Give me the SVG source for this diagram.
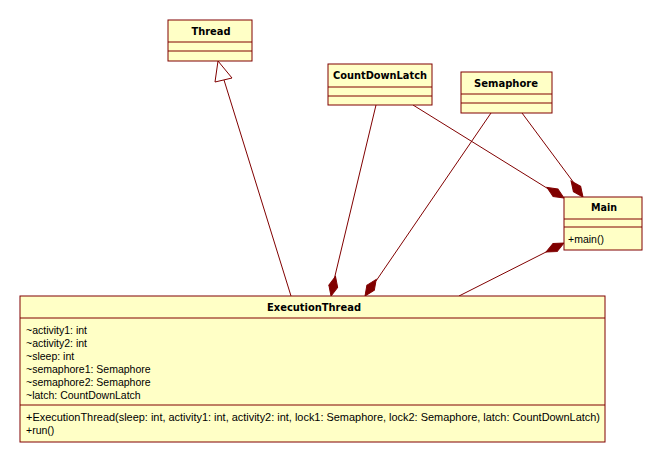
<svg xmlns="http://www.w3.org/2000/svg" width="663" height="462" viewBox="0 0 663 462">
<style>
.box{fill:#ffffc6;stroke:#800000;stroke-width:1}
.div{stroke:#800000;stroke-width:1}
.t{font-family:Tahoma,"DejaVu Sans","Liberation Sans",sans-serif;font-size:11px;font-weight:bold;fill:#000;text-anchor:middle}
.a{font-family:"Liberation Sans",Arial,sans-serif;font-size:10.5px;fill:#000}
.c{stroke:#800000;stroke-width:1;fill:none}
.dia{fill:#800000;stroke:#800000;stroke-width:1}
.tri{fill:#fff;stroke:#800000;stroke-width:1}
</style>
<rect width="663" height="462" fill="#fff"/>
<g id="connectors">
<line class="c" x1="291" y1="296" x2="224" y2="80"/>
<polygon class="tri" points="218,61 215,82 232,78"/>
<line class="c" x1="376" y1="105" x2="334" y2="280"/>
<line class="c" x1="491" y1="113" x2="376" y2="281"/>
<line class="c" x1="413" y1="105" x2="550" y2="190"/>
<line class="c" x1="522" y1="113" x2="574" y2="183"/>
<line class="c" x1="459" y1="296" x2="550" y2="250"/>
<g id="diamonds">
<polygon class="dia" transform="translate(331,296) rotate(-77)" points="0,0 10,-4.5 20,0 10,4.5"/>
<polygon class="dia" transform="translate(365,296) rotate(-56)" points="0,0 10,-4.5 20,0 10,4.5"/>
<polygon class="dia" transform="translate(564,198) rotate(211.8)" points="0,0 10,-4.5 20,0 10,4.5"/>
<polygon class="dia" transform="translate(583,197) rotate(233.4)" points="0,0 10,-4.5 20,0 10,4.5"/>
<polygon class="dia" transform="translate(564,243) rotate(153.2)" points="0,0 10,-4.5 20,0 10,4.5"/>
</g>
</g>
<g id="Thread">
<rect class="box" x="168" y="20" width="84" height="41"/>
<line class="div" x1="168" y1="42" x2="252" y2="42"/>
<line class="div" x1="168" y1="51" x2="252" y2="51"/>
<text class="t" x="211" y="35" textLength="39" lengthAdjust="spacingAndGlyphs">Thread</text>
</g>
<g id="CountDownLatch">
<rect class="box" x="328" y="64" width="104" height="41"/>
<line class="div" x1="328" y1="87" x2="432" y2="87"/>
<line class="div" x1="328" y1="96" x2="432" y2="96"/>
<text class="t" x="380" y="79" textLength="94" lengthAdjust="spacingAndGlyphs">CountDownLatch</text>
</g>
<g id="Semaphore">
<rect class="box" x="461" y="72" width="91" height="41"/>
<line class="div" x1="461" y1="94" x2="552" y2="94"/>
<line class="div" x1="461" y1="103" x2="552" y2="103"/>
<text class="t" x="506" y="87" textLength="64" lengthAdjust="spacingAndGlyphs">Semaphore</text>
</g>
<g id="Main">
<rect class="box" x="564" y="197" width="78" height="53"/>
<line class="div" x1="564" y1="219" x2="642" y2="219"/>
<line class="div" x1="564" y1="227" x2="642" y2="227"/>
<text class="t" x="604" y="211" textLength="26" lengthAdjust="spacingAndGlyphs">Main</text>
<text class="a" x="568" y="243">+main()</text>
</g>
<g id="ExecutionThread">
<rect class="box" x="20" y="296" width="585" height="146"/>
<line class="div" x1="20" y1="318" x2="605" y2="318"/>
<line class="div" x1="20" y1="405" x2="605" y2="405"/>
<text class="t" x="314" y="311" textLength="94" lengthAdjust="spacingAndGlyphs">ExecutionThread</text>
<text class="a" x="26" y="334">~activity1: int</text>
<text class="a" x="26" y="347">~activity2: int</text>
<text class="a" x="26" y="360">~sleep: int</text>
<text class="a" x="26" y="373">~semaphore1: Semaphore</text>
<text class="a" x="26" y="386">~semaphore2: Semaphore</text>
<text class="a" x="26" y="399">~latch: CountDownLatch</text>
<text class="a" x="26" y="421" textLength="574" lengthAdjust="spacingAndGlyphs">+ExecutionThread(sleep: int, activity1: int, activity2: int, lock1: Semaphore, lock2: Semaphore, latch: CountDownLatch)</text>
<text class="a" x="26" y="434">+run()</text>
</g>
</svg>
